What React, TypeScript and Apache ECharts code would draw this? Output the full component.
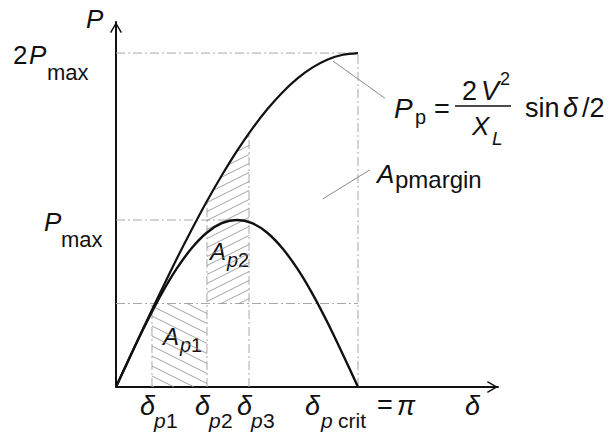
import React, { useEffect, useRef } from "react";
import * as echarts from "echarts";

// δ samples (rad) and the two power curves (in units of Pmax)
const deltaSamples = [0, 0.1963, 0.3927, 0.589, 0.7854, 0.9817, 1.1781, 1.3744, 1.5708, 1.7671, 1.9635, 2.1598, 2.3562, 2.5525, 2.7489, 2.9452, 3.1416];
const pLowerCurve = [0, 0.195, 0.383, 0.556, 0.707, 0.831, 0.924, 0.981, 1, 0.981, 0.924, 0.831, 0.707, 0.556, 0.383, 0.195, 0];
const pUpperCurve = [0, 0.196, 0.39, 0.58, 0.765, 0.942, 1.111, 1.268, 1.414, 1.546, 1.663, 1.764, 1.848, 1.914, 1.962, 1.99, 2];

// marked angles: δp1, δp2, δp3, δp crit = π
const deltaTicks = [0.467, 1.181, 1.727, 3.1416];
const deltaTickSubs = ["1", "2", "3"];
// levels: threshold, Pmax, 2Pmax
const pLevels = [0.5, 1, 2];
// annotation leader lines (data coordinates)
const ppLeader = [[2.817, 1.952], [3.492, 1.729]];
const marginLeader = [[2.687, 1.127], [3.297, 1.301]];
const X_MAX = 4.959;
const Y_MAX = 2.186;

const FONT = '"Liberation Sans", Arial, sans-serif';

function upper(x: number): number {
  for (let i = 0; i < deltaSamples.length - 1; i++) {
    const a = deltaSamples[i], b = deltaSamples[i + 1];
    if (x >= a && x <= b) {
      const t = (x - a) / (b - a);
      return pUpperCurve[i] + t * (pUpperCurve[i + 1] - pUpperCurve[i]);
    }
  }
  return pUpperCurve[pUpperCurve.length - 1];
}

const [d1, d2, d3, dc] = deltaTicks;
const [lvLow, lvMax, lv2Max] = pLevels;

const ap2Top: number[][] = [[d3, upper(d3)]];
for (let i = deltaSamples.length - 1; i >= 0; i--) {
  const x = deltaSamples[i];
  if (x < d3 && x > d2) ap2Top.push([x, pUpperCurve[i]]);
}
ap2Top.push([d2, upper(d2)]);

const hatchRegions = [
  { poly: [[d1, 0], [d2, 0], [d2, lvLow], [d1, lvLow]], slope: 0.5, gap: 10 },
  { poly: [[d2, lvLow], [d3, lvLow], ...ap2Top], slope: -0.5, gap: 9 },
];

const refSegments = [
  [[0, lvLow], [dc, lvLow]],
  [[0, lvMax], [d3, lvMax]],
  [[0, lv2Max], [dc, lv2Max]],
  [[dc, 0], [dc, lv2Max]],
  [[d1, 0], [d1, lvLow]],
  [[d2, 0], [d2, upper(d2)]],
  [[d3, 0], [d3, upper(d3)]],
];

const arrowPath = "path://M5,0 L10,8.6 L8.9,9.2 L5,2.4 L1.1,9.2 L0,8.6 Z";

function axisCommon(max: number) {
  return {
    type: "value" as const,
    min: 0,
    max,
    axisLine: {
      show: true,
      onZero: false,
      lineStyle: { color: "#111", width: 2 },
      symbol: ["none", arrowPath],
      symbolSize: [12, 11],
      symbolOffset: [0, -5.5],
    },
    axisTick: { show: false },
    axisLabel: { show: false },
    splitLine: { show: false },
  };
}

function t(text: string, x: number, baseline: number, size: number, italic = false) {
  return {
    type: "text",
    silent: true,
    style: {
      text,
      x,
      y: baseline - 0.35 * size,
      font: `${italic ? "italic " : ""}${size}px ${FONT}`,
      fill: "#111",
      align: "left",
      verticalAlign: "middle",
    },
  };
}

export default function App() {
  const ref = useRef<HTMLDivElement>(null);
  useEffect(() => {
    const chart = echarts.init(ref.current!, null, { renderer: "svg" });
    const series: any[] = [];
    refSegments.forEach((seg) => {
      series.push({
        type: "line",
        data: seg,
        showSymbol: false,
        silent: true,
        lineStyle: { color: "#a8a8a8", width: 1, type: [9, 3, 2, 3] },
        z: 1,
      });
    });
    series.push({
      type: "custom",
      coordinateSystem: "cartesian2d",
      data: hatchRegions.map((r) => r.poly[0]),
      silent: true,
      clip: false,
      z: 2,
      renderItem: (params: any, api: any) => {
        const reg = hatchRegions[params.dataIndex];
        const pts = reg.poly.map((p) => api.coord(p));
        const s = reg.slope, gap = reg.gap;
        const cs = pts.map((p: number[]) => p[1] - s * p[0]);
        const cmin = Math.min(...cs), cmax = Math.max(...cs);
        const children: any[] = [];
        for (let c = Math.ceil(cmin / gap) * gap; c <= cmax; c += gap) {
          const xs: number[] = [];
          for (let i = 0; i < pts.length; i++) {
            const P = pts[i], Q = pts[(i + 1) % pts.length];
            const fP = P[1] - s * P[0] - c, fQ = Q[1] - s * Q[0] - c;
            if ((fP <= 0 && fQ >= 0) || (fP >= 0 && fQ <= 0)) {
              if (fP === fQ) continue;
              const tt = fP / (fP - fQ);
              xs.push(P[0] + tt * (Q[0] - P[0]));
            }
          }
          if (xs.length < 2) continue;
          const xa = Math.min(...xs), xb = Math.max(...xs);
          if (xb - xa < 0.5) continue;
          children.push({
            type: "line",
            shape: { x1: xa, y1: s * xa + c, x2: xb, y2: s * xb + c },
            style: { stroke: "#8c8c8c", lineWidth: 0.8 },
          });
        }
        return { type: "group", children };
      },
    });
    series.push({
      type: "line",
      data: deltaSamples.map((d, i) => [d, pLowerCurve[i]]),
      smooth: 0.3,
      showSymbol: false,
      silent: true,
      lineStyle: { color: "#111", width: 2.4 },
      z: 5,
    });
    series.push({
      type: "line",
      data: deltaSamples.map((d, i) => [d, pUpperCurve[i]]),
      smooth: 0.3,
      showSymbol: false,
      silent: true,
      lineStyle: { color: "#111", width: 2.2 },
      z: 5,
    });
    [ppLeader, marginLeader].forEach((seg) => {
      series.push({
        type: "line",
        data: seg,
        showSymbol: false,
        silent: true,
        lineStyle: { color: "#8a8a8a", width: 1 },
        z: 4,
      });
    });

    chart.setOption({
      animation: false,
      grid: { left: 116, top: 22, width: 382, height: 365 },
      xAxis: axisCommon(X_MAX),
      yAxis: axisCommon(Y_MAX),
      series,
    });

    const px = (v: number) => chart.convertToPixel({ gridIndex: 0 }, [v, 0])[0];
    const graphic: any[] = [];
    // axis titles
    graphic.push(t("P", 86, 28, 26, true));
    graphic.push(t("δ", 465, 415, 27, true));
    // y labels
    graphic.push(t("2", 13, 64, 26), t("P", 29, 64, 26, true), t("max", 47, 80, 22));
    graphic.push(t("P", 44, 231, 26, true), t("max", 61, 247, 22));
    // δ tick labels
    deltaTickSubs.forEach((sub, i) => {
      const X = px(deltaTicks[i]);
      graphic.push(t("δ", X - 12, 415, 27, true), t("p", X + 2, 428, 21, true), t(sub, X + 14, 428, 21));
    });
    const Xc = px(dc);
    graphic.push(
      t("δ", Xc - 53, 415, 27, true),
      t("p", Xc - 37, 428, 21, true),
      t("crit", Xc - 20, 428, 21),
      t("=", Xc + 19, 414, 27),
      t("π", Xc + 39, 415, 27, true)
    );
    // area labels
    graphic.push(t("A", 163, 345, 24, true), t("p", 180, 352, 20, true), t("1", 191, 352, 20));
    graphic.push(t("A", 210, 260, 24, true), t("p", 227, 267, 20, true), t("2", 238, 267, 20));
    graphic.push(t("A", 377, 183, 26, true), t("pmargin", 395, 188, 24));
    // formula
    graphic.push(
      t("P", 394, 118, 28, true),
      t("p", 415, 124, 20),
      t("=", 434, 118, 27),
      t("2", 462, 100, 27),
      t("V", 481, 100, 27, true),
      t("2", 500, 85, 18),
      {
        type: "line",
        silent: true,
        shape: { x1: 455, y1: 106, x2: 511, y2: 106 },
        style: { stroke: "#111", lineWidth: 1.6 },
      },
      t("X", 472, 135, 26, true),
      t("L", 492, 145, 19, true),
      t("sin", 525, 117, 27),
      t("δ", 563, 117, 27, true),
      t("/2", 582, 117, 27)
    );
    chart.setOption({ graphic });
    return () => chart.dispose();
  }, []);
  return (
    <div
      ref={ref}
      style={{ position: "absolute", left: 0, top: 0, width: 613, height: 434, background: "#fff" }}
    />
  );
}
